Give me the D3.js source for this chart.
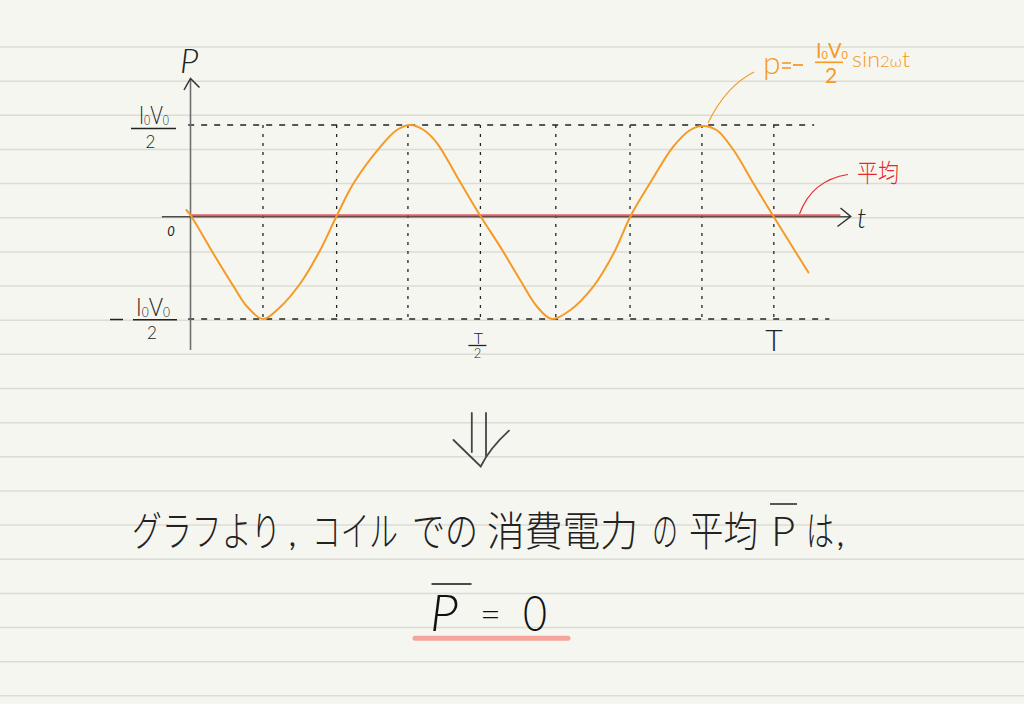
<!DOCTYPE html>
<html><head><meta charset="utf-8">
<script src="https://cdn.jsdelivr.net/npm/d3@7"></script>
<style>html,body{margin:0;padding:0;background:#f6f6f1;} svg{display:block}</style>
</head><body><svg id="c" width="1024" height="704"></svg>
<script>
// ---- data ----
const curveT = [-0.007, 0.001, 0.039, 0.074, 0.097, 0.124, 0.154, 0.188, 0.222, 0.250, 0.279, 0.325, 0.353, 0.376, 0.399, 0.422, 0.456, 0.496, 0.530, 0.564, 0.593, 0.618, 0.650, 0.689, 0.724, 0.753, 0.786, 0.826, 0.855, 0.875, 0.900, 0.929, 0.963, 0.997, 1.026, 1.057];
const curveP = [0.066, 0, -0.364, -0.686, -0.881, -1.0, -0.881, -0.653, -0.330, 0, 0.359, 0.762, 0.945, 1.0, 0.945, 0.799, 0.432, 0, -0.30, -0.621, -0.881, -1.0, -0.913, -0.686, -0.362, 0, 0.359, 0.762, 0.945, 0.99, 0.945, 0.725, 0.359, 0, -0.265, -0.547];
const gridT = [0.124, 0.250, 0.372, 0.496, 0.625, 0.752, 0.875, 0.998];
const levels = [1, -1];
const levelEnds = [1.067, 1.093];
const meanValue = 0;
const meanEnd = 1.112;
const xTickLabels = ["T/2", "T"];
const xTickValues = [0.496, 0.998];
const sentence = ["グラフより", "コイル", "での", "消費電力", "の", "平均", "は"];

const svg = d3.select("#c");
const W = 1024, H = 704;
const x = d3.scaleLinear().domain([0, 1]).range([190.5, 775]);
const y = d3.scaleLinear().domain([-1, 0, 1]).range([319, 216, 125]);
const LAT = "Lato, 'Open Sans', 'DejaVu Sans', sans-serif";
const JP = "'Noto Sans CJK JP', 'Noto Sans CJK SC', sans-serif";
const ORANGE = "#f59a25";

// squeeze a text horizontally into width w (left edge x0, baseline y0)
function squeeze(parent, x0, y0, w, build) {
  const g = parent.append("g");
  const t = g.append("text").attr("x", 0).attr("y", 0);
  build(t);
  const nat = t.node().getBBox().width || w;
  g.attr("transform", `translate(${x0},${y0}) scale(${w / nat},1)`);
  return t;
}

// notebook background
svg.append("rect").attr("width", W).attr("height", H).attr("fill", "#f6f6f1");
svg.append("g").selectAll("line").data(d3.range(20)).join("line")
  .attr("x1", 0).attr("x2", W)
  .attr("y1", k => 47 + 34.15 * k).attr("y2", k => 47 + 34.15 * k)
  .attr("stroke", "#dcdcd5").attr("stroke-width", 1.5);

// dashed level lines
svg.append("g").selectAll("line").data(levels).join("line")
  .attr("x1", x(-0.004)).attr("x2", (d, i) => x(levelEnds[i]))
  .attr("y1", d => y(d)).attr("y2", d => y(d))
  .attr("stroke", "#222").attr("stroke-width", 1.3).attr("stroke-dasharray", "6,7");

// vertical dotted lines
svg.append("g").selectAll("line").data(gridT).join("line")
  .attr("x1", d => x(d)).attr("x2", d => x(d))
  .attr("y1", y(1)).attr("y2", y(-1))
  .attr("stroke", "#222").attr("stroke-width", 1.3).attr("stroke-dasharray", "3,6");

// axes
svg.append("line").attr("x1", x(0)).attr("x2", x(0)).attr("y1", 79).attr("y2", 350)
  .attr("stroke", "#6e6e6e").attr("stroke-width", 1.6);
svg.append("path").attr("d", `M184,90 L${x(0)},78.5 L199.5,87.5`)
  .attr("fill", "none").attr("stroke", "#333").attr("stroke-width", 1.5);
svg.append("line").attr("x1", x(-0.049)).attr("x2", 850).attr("y1", y(0) + 0.7).attr("y2", y(0) + 0.7)
  .attr("stroke", "#4a4a4a").attr("stroke-width", 1.5);
svg.append("path").attr("d", `M840.5,208 L850.7,${y(0) + 0.5} L837.5,226.5`)
  .attr("fill", "none").attr("stroke", "#333").attr("stroke-width", 1.5);

// mean line
svg.append("line").attr("x1", x(0)).attr("x2", x(meanEnd))
  .attr("y1", y(meanValue) - 0.8).attr("y2", y(meanValue) - 0.8)
  .attr("stroke", "#e0484a").attr("stroke-width", 2).attr("opacity", 0.85);

// power curve
const pts = curveT.map((t, i) => [x(t), y(curveP[i])]);
svg.append("path").attr("d", d3.line().curve(d3.curveCatmullRom.alpha(0.5))(pts))
  .attr("fill", "none").attr("stroke", ORANGE).attr("stroke-width", 2)
  .attr("stroke-linecap", "round").attr("stroke-linejoin", "round");

// helper for I0V0
function i0v0(g, xx, yy, fs, len, color, weight) {
  return squeeze(g, xx, yy, len, t => {
    t.attr("font-family", LAT).attr("font-size", fs).attr("font-weight", weight || 300).attr("fill", color);
    t.append("tspan").text("I");
    t.append("tspan").attr("font-size", fs * 0.55).attr("dy", 1).text("0");
    t.append("tspan").attr("dy", -1).text("V");
    t.append("tspan").attr("font-size", fs * 0.55).attr("dy", 1).text("0");
  });
}
const lab = svg.append("g");
// y labels
i0v0(lab, 139, 124, 25, 30, "#222");
lab.append("line").attr("x1", 131).attr("x2", 176).attr("y1", 128.5).attr("y2", 128.5).attr("stroke", "#222").attr("stroke-width", 1.5);
lab.append("text").attr("x", 150.5).attr("y", 147.5).attr("text-anchor", "middle").attr("font-family", LAT)
  .attr("font-size", 17).attr("font-weight", 300).attr("fill", "#222").text("2");
i0v0(lab, 136, 315.5, 25, 34, "#222");
lab.append("line").attr("x1", 110).attr("x2", 123).attr("y1", y(-1) + 0.5).attr("y2", y(-1) + 0.5).attr("stroke", "#222").attr("stroke-width", 1.5);
lab.append("line").attr("x1", 133).attr("x2", 177).attr("y1", y(-1) + 0.7).attr("y2", y(-1) + 0.7).attr("stroke", "#222").attr("stroke-width", 1.5);
lab.append("text").attr("x", 152).attr("y", 339).attr("text-anchor", "middle").attr("font-family", LAT)
  .attr("font-size", 17).attr("font-weight", 300).attr("fill", "#222").text("2");
lab.append("text").attr("x", 171).attr("y", 236).attr("text-anchor", "middle").attr("font-family", LAT)
  .attr("font-size", 13).attr("font-style", "italic").attr("fill", "#222").text("0");
// axis titles
lab.append("text").attr("x", 180).attr("y", 73).attr("font-family", LAT).attr("font-size", 34)
  .attr("font-weight", 300).attr("font-style", "italic").attr("fill", "#222").text("P");
lab.append("text").attr("x", 857).attr("y", 228).attr("font-family", LAT).attr("font-size", 27)
  .attr("font-weight", 300).attr("font-style", "italic").attr("fill", "#222").text("t");
// x tick labels
const tx0 = x(xTickValues[0]);
const tp = xTickLabels[0].split("/");
lab.append("text").attr("x", tx0 - 2).attr("y", 343.5).attr("text-anchor", "middle").attr("font-family", LAT)
  .attr("font-size", 16).attr("font-weight", 300).attr("fill", "#222").text(tp[0]);
lab.append("line").attr("x1", tx0 - 12).attr("x2", tx0 + 6).attr("y1", 345.5).attr("y2", 345.5).attr("stroke", "#222").attr("stroke-width", 1.3);
lab.append("text").attr("x", tx0 - 3).attr("y", 358).attr("text-anchor", "middle").attr("font-family", LAT)
  .attr("font-size", 13).attr("font-weight", 300).attr("fill", "#222").text(tp[1]);
lab.append("text").attr("x", x(xTickValues[1])).attr("y", 351).attr("text-anchor", "middle").attr("font-family", LAT)
  .attr("font-size", 30).attr("font-weight", 300).attr("fill", "#222").text(xTickLabels[1]);

// orange formula annotation
const an = svg.append("g");
an.append("path").attr("d", "M708,123 Q726,86 754,72").attr("fill", "none").attr("stroke", ORANGE).attr("stroke-width", 1.1);
an.append("text").attr("x", 763).attr("y", 74).attr("font-family", LAT).attr("font-size", 32).attr("font-weight", 300)
  .attr("fill", ORANGE).text("p");
an.append("line").attr("x1", 782).attr("x2", 791).attr("y1", 63).attr("y2", 63).attr("stroke", ORANGE).attr("stroke-width", 1.6);
an.append("line").attr("x1", 782).attr("x2", 791).attr("y1", 68).attr("y2", 68).attr("stroke", ORANGE).attr("stroke-width", 1.6);
an.append("line").attr("x1", 793).attr("x2", 803).attr("y1", 65).attr("y2", 65).attr("stroke", ORANGE).attr("stroke-width", 1.8);
i0v0(an, 816, 58, 22, 32, ORANGE, 400);
an.append("line").attr("x1", 815).attr("x2", 843).attr("y1", 62.3).attr("y2", 62.3).attr("stroke", ORANGE).attr("stroke-width", 1.6);
an.append("text").attr("x", 831).attr("y", 83).attr("text-anchor", "middle").attr("font-family", LAT).attr("font-size", 21)
  .attr("font-weight", 400).attr("fill", ORANGE).text("2");
squeeze(an, 852, 67, 58, t => {
  t.attr("font-family", LAT).attr("font-size", 21).attr("font-weight", 300).attr("fill", ORANGE);
  t.append("tspan").text("sin");
  t.append("tspan").attr("font-size", 15).text("2ω");
  t.append("tspan").text("t");
});

// red mean annotation
svg.append("path").attr("d", "M799.5,214 Q812,180 848,174.5").attr("fill", "none").attr("stroke", "#e8262b").attr("stroke-width", 1.2);
squeeze(svg, 857, 182, 42, t => t.attr("font-family", JP).attr("font-size", 25).attr("font-weight", 300)
  .attr("fill", "#e8262b").text("平均"));

// double arrow
const ar = svg.append("g").attr("fill", "none").attr("stroke", "#454545").attr("stroke-width", 1.8).attr("stroke-linecap", "round");
ar.append("line").attr("x1", 471.8).attr("x2", 471.8).attr("y1", 413).attr("y2", 452);
ar.append("line").attr("x1", 486).attr("x2", 486).attr("y1", 413).attr("y2", 456);
ar.append("path").attr("d", "M453.5,440 L480.7,466.5 Q490,448 509,430.7");

// sentence
const segs = [
  { s: sentence[0], x0: 132, w: 149 },
  { s: sentence[1], x0: 312, w: 86 },
  { s: sentence[2], x0: 412, w: 66 },
  { s: sentence[3], x0: 487, w: 151 },
  { s: sentence[4], x0: 652, w: 26 },
  { s: sentence[5], x0: 689, w: 69 },
  { s: sentence[6], x0: 806, w: 28 }
];
const st = svg.append("g").attr("fill", "#222");
segs.forEach(d => squeeze(st, d.x0, 546, d.w, t => t.attr("font-family", JP).attr("font-weight", 300)
  .attr("font-size", 41).attr("fill", "#222").text(d.s)));
st.append("text").attr("x", 289).attr("y", 546).attr("font-family", LAT).attr("font-size", 30).text(",");
st.append("text").attr("x", 837).attr("y", 546).attr("font-family", LAT).attr("font-size", 30).text(",");
st.append("text").attr("x", 771).attr("y", 546).attr("font-family", LAT).attr("font-size", 42).attr("font-weight", 300).text("P");
st.append("line").attr("x1", 770).attr("x2", 797).attr("y1", 504).attr("y2", 504).attr("stroke", "#222").attr("stroke-width", 1.5);

// result
svg.append("line").attr("x1", 415).attr("x2", 568).attr("y1", 638.3).attr("y2", 638.3)
  .attr("stroke", "#f6a59c").attr("stroke-width", 5).attr("stroke-linecap", "round");
const rs = svg.append("g").attr("font-family", LAT).attr("font-weight", 300).attr("fill", "#111");
rs.append("text").attr("x", 430).attr("y", 631).attr("font-size", 52).attr("font-style", "italic").text("P");
rs.append("line").attr("x1", 431.5).attr("x2", 471.5).attr("y1", 584).attr("y2", 584).attr("stroke", "#111").attr("stroke-width", 1.6);
rs.append("text").attr("x", 480).attr("y", 627).attr("font-size", 36).text("=");
squeeze(rs, 523, 631, 24, t => t.attr("font-family", LAT).attr("font-weight", 300).attr("font-size", 50).attr("fill", "#111").text("0"));
</script></body></html>
